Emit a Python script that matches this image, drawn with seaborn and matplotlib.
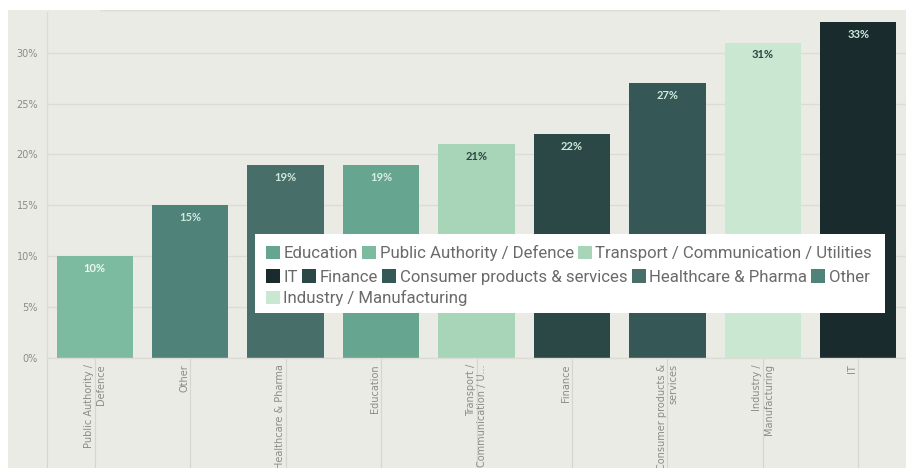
import matplotlib
matplotlib.use("Agg")
import matplotlib.pyplot as plt
import seaborn as sns
import pandas as pd
from matplotlib.patches import Rectangle, Patch
from matplotlib.ticker import MultipleLocator, FuncFormatter

# ---- data -------------------------------------------------------------
sectors = [
    "Public Authority / Defence",
    "Other",
    "Healthcare & Pharma",
    "Education",
    "Transport / Communication / Utilities",
    "Finance",
    "Consumer products & services",
    "Industry / Manufacturing",
    "IT",
]
shares = [10, 15, 19, 19, 21, 22, 27, 31, 33]

tick_labels = [
    "Public Authority /\nDefence",
    "Other\n ",
    "Healthcare & Pharma\n ",
    "Education\n ",
    "Transport /\nCommunication / U...",
    "Finance\n ",
    "Consumer products &\nservices",
    "Industry /\nManufacturing",
    "IT\n ",
]

legend_rows = [
    ["Education", "Public Authority / Defence", "Transport / Communication / Utilities"],
    ["IT", "Finance", "Consumer products & services", "Healthcare & Pharma", "Other"],
    ["Industry / Manufacturing"],
]

# ---- styling ----------------------------------------------------------
bar_colors = {
    "Public Authority / Defence": "#7cbb9f",
    "Other": "#4f8279",
    "Healthcare & Pharma": "#476e69",
    "Education": "#66a690",
    "Transport / Communication / Utilities": "#a8d5b8",
    "Finance": "#2b4846",
    "Consumer products & services": "#355755",
    "Industry / Manufacturing": "#c9e7d1",
    "IT": "#1a2b2e",
}
value_colors = {
    "Public Authority / Defence": "#eef7f2",
    "Other": "#cfe9dc",
    "Healthcare & Pharma": "#cfe9dc",
    "Education": "#d9efe3",
    "Transport / Communication / Utilities": "#2c4543",
    "Finance": "#cfe9dc",
    "Consumer products & services": "#cfe9dc",
    "Industry / Manufacturing": "#2c4543",
    "IT": "#cfe9dc",
}
BG = "#ebebe6"
GRID = "#dcdbd5"
TICKLINE = "#d6d6d0"
AXIS_TEXT = "#8b8b87"

sns.set_style("white")
plt.rcParams["font.family"] = ["DejaVu Sans"]

df = pd.DataFrame({"sector": sectors, "share": shares})

W, H = 906, 468
fig = plt.figure(figsize=(W / 100, H / 100), dpi=100, facecolor="white")

# panel background (white margin on the left and along the top)
fig.add_artist(Rectangle((8 / W, 0), 1 - 8 / W, 458 / H, transform=fig.transFigure,
                         facecolor=BG, edgecolor="none", zorder=-10))
# soft shadow under the header strip
for k, a in enumerate([0.45, 0.22, 0.08]):
    fig.add_artist(Rectangle((100 / W, (457 - k) / H), 620 / W, 1 / H,
                             transform=fig.transFigure, facecolor="#cfcfca",
                             edgecolor="none", alpha=a, zorder=-9))

ax = fig.add_axes([47 / W, 110 / H, 1 - 47 / W, 346 / H])
ax.set_facecolor(BG)

sns.barplot(data=df, x="sector", y="share", hue="sector", palette=bar_colors,
            order=sectors, hue_order=sectors, dodge=False, legend=False,
            width=0.8, saturation=1, linewidth=0, edgecolor="none", ax=ax)

ax.set_xlim(-0.5, len(sectors) - 0.5)
ax.set_ylim(0, 34)
ax.yaxis.set_major_locator(MultipleLocator(5))
ax.yaxis.set_major_formatter(FuncFormatter(lambda v, _: f"{v:.0f}%"))
ax.grid(axis="y", color=GRID, linewidth=1)
ax.grid(axis="x", visible=False)
ax.set_axisbelow(True)
for side in ("top", "right"):
    ax.spines[side].set_visible(False)
for side in ("left", "bottom"):
    ax.spines[side].set_color(GRID)
    ax.spines[side].set_linewidth(1)

ax.set_xlabel("")
ax.set_ylabel("")
ax.tick_params(axis="y", left=False, length=0, pad=6.5, labelsize=7,
               labelcolor=AXIS_TEXT)

ax.set_xticks(range(len(sectors)))
ax.set_xticklabels(tick_labels, rotation=90, ha="center", va="top",
                   multialignment="right", fontsize=7, color=AXIS_TEXT)
# long tick marks act as column guides below the baseline
ax.tick_params(axis="x", which="major", bottom=True, length=80, width=0.8,
               color=TICKLINE, direction="out", pad=-75.5)
# left edge guide continuing the y spine downwards
ax.set_xticks([-0.5], minor=True)
ax.tick_params(axis="x", which="minor", bottom=True, length=80, width=0.8,
               color=TICKLINE, direction="out", labelbottom=False)

# value labels inside the top of each bar
for i, (name, v) in enumerate(zip(sectors, shares)):
    ax.annotate(f"{v}%", xy=(i, v), xytext=(0, -5), textcoords="offset points",
                ha="center", va="top", fontsize=8, fontweight="bold",
                family=["Lato", "DejaVu Sans"], color=value_colors[name])

# ---- legend: white panel with three flowing rows ----------------------
fig.add_artist(Rectangle((255 / W, 155 / H), 630 / W, 79 / H,
                         transform=fig.transFigure, facecolor="white",
                         edgecolor="none", zorder=5))
row_centers = [215, 191, 170]
for row, yc in zip(legend_rows, row_centers):
    handles = [Patch(facecolor=bar_colors[n], edgecolor="none") for n in row]
    leg = fig.legend(handles, row, loc="center left",
                     bbox_to_anchor=(266 / W, yc / H), bbox_transform=fig.transFigure,
                     ncol=len(row), frameon=False, borderpad=0, borderaxespad=0,
                     handlelength=0.84, handleheight=0.84, handletextpad=0.2,
                     columnspacing=0.25,
                     prop={"family": ["Roboto", "DejaVu Sans"], "size": 12.1})
    leg.set_zorder(6)
    for t in leg.get_texts():
        t.set_color("#6a6a6a")

fig.savefig("out.png", dpi=100, facecolor="white")
